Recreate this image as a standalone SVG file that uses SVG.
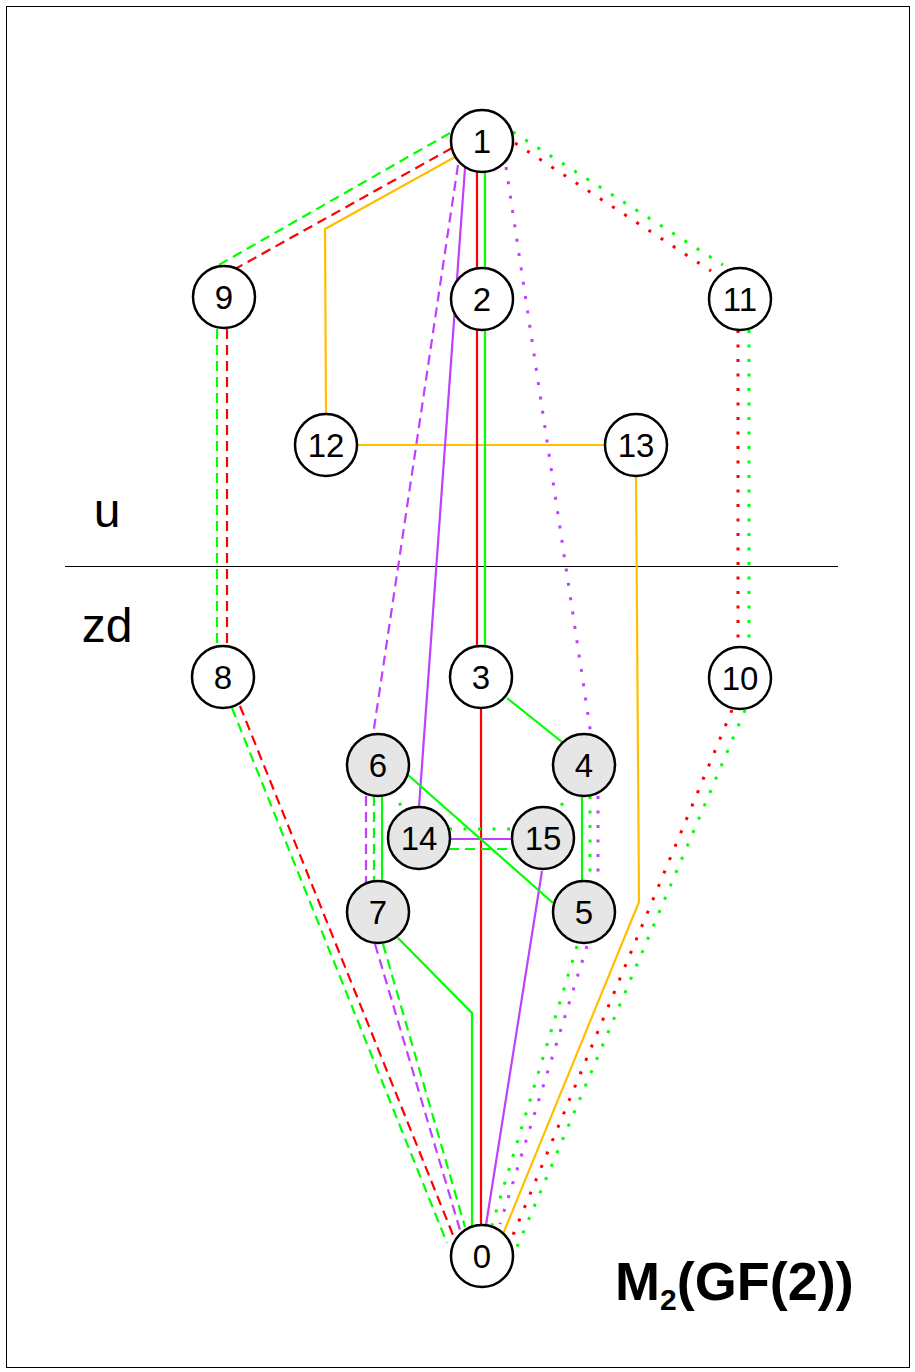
<svg xmlns="http://www.w3.org/2000/svg" width="915" height="1372" viewBox="0 0 915 1372">
<style>
.n circle{stroke:#000;stroke-width:2.5;fill:#fff}
.n.g circle{fill:#e6e6e6}
.n text{font-family:"Liberation Sans",Arial,sans-serif;font-size:33px;text-anchor:middle;fill:#000}
.e{fill:none;stroke-width:2.2}
.gr{stroke:#00ff00}.rd{stroke:#ff0000}.pu{stroke:#bf40ff}.or{stroke:#ffbf00}
.da{stroke-dasharray:10 6}
.dt{stroke-dasharray:3 11.5;stroke-width:3}
.lbl{font-family:"Liberation Sans",Arial,sans-serif;font-size:48px;fill:#000}
</style>
<rect x="6.5" y="6.5" width="903" height="1361" fill="#fff" stroke="#000" stroke-width="1"/>
<line x1="65" y1="566.5" x2="838" y2="566.5" stroke="#000" stroke-width="1"/>
<text class="lbl" x="107" y="527" text-anchor="middle">u</text>
<text class="lbl" x="107" y="642" text-anchor="middle">zd</text>
<g id="connectors">
<path class="e or" d="M455,157 L325,229 L326,414"/>
<path class="e or" d="M357,445 L605,445"/>
<path class="e or" d="M636,476 L639,902 L503,1234"/>
<path class="e rd" d="M477,172 L477,646"/>
<path class="e rd" d="M481,708 L481,1225"/>
<path class="e gr" d="M485,172 L485,646"/>
<path class="e pu" d="M465,168 L419,807"/>
<path class="e pu" d="M542,871 L486,1225"/>
<path class="e pu" d="M450,839 L513,839"/>
<path class="e gr" d="M382,796 L382,882"/>
<path class="e gr" d="M398,938 L472,1013 L472,1228"/>
<path class="e gr" d="M507,698 L562,742"/>
<path class="e gr" d="M582,797 L582,882"/>
<path class="e gr" d="M408,775 L553,903"/>
<path class="e gr da" d="M450,133 L217,266"/>
<path class="e rd da" d="M452,148 L235,269"/>
<path class="e gr da" d="M217,329 L217,646"/>
<path class="e rd da" d="M227,329 L227,646"/>
<path class="e gr da" d="M232,708 L447,1243"/>
<path class="e rd da" d="M240,706 L453,1235"/>
<path class="e pu da" d="M458,165 L373,735"/>
<path class="e pu da" d="M366,796 L366,882"/>
<path class="e pu da" d="M375,944 L460,1230"/>
<path class="e gr da" d="M374,796 L374,882"/>
<path class="e gr da" d="M383,944 L465,1227"/>
<path class="e gr da" d="M449,849 L513,849"/>
<path class="e pu dt" d="M506,167 L591,735"/>
<path class="e pu dt" d="M598,796 L598,882"/>
<path class="e pu dt" d="M587,946 L500,1224"/>
<path class="e rd dt" d="M515,143 L711,271"/>
<path class="e rd dt" d="M738,330 L738,647"/>
<path class="e rd dt" d="M732,710 L513,1235"/>
<path class="e gr dt" d="M513,132 L723,265"/>
<path class="e gr dt" d="M749,330 L749,647"/>
<path class="e gr dt" d="M745,710 L517,1247"/>
<path class="e gr dt" d="M590,796 L590,882"/>
<path class="e gr dt" d="M577,946 L492,1225"/>
<path class="e gr dt" d="M378,765 L419,838"/>
<path class="e gr dt" d="M584,765 L543,838"/>
<path class="e gr dt" d="M449,829 L513,829"/>
</g>
<g id="n1" class="n"><circle cx="482" cy="141" r="31"/><text x="482" y="153">1</text></g>
<g id="n2" class="n"><circle cx="482" cy="299" r="31"/><text x="482" y="311">2</text></g>
<g id="n9" class="n"><circle cx="224" cy="297" r="31"/><text x="224" y="309">9</text></g>
<g id="n11" class="n"><circle cx="740" cy="299" r="31"/><text x="740" y="311">11</text></g>
<g id="n12" class="n"><circle cx="326" cy="445" r="31"/><text x="326" y="457">12</text></g>
<g id="n13" class="n"><circle cx="636" cy="445" r="31"/><text x="636" y="457">13</text></g>
<g id="n8" class="n"><circle cx="223" cy="677" r="31"/><text x="223" y="689">8</text></g>
<g id="n3" class="n"><circle cx="481" cy="677" r="31"/><text x="481" y="689">3</text></g>
<g id="n10" class="n"><circle cx="740" cy="678" r="31"/><text x="740" y="690">10</text></g>
<g id="n6" class="n g"><circle cx="378" cy="765" r="31"/><text x="378" y="777">6</text></g>
<g id="n4" class="n g"><circle cx="584" cy="765" r="31"/><text x="584" y="777">4</text></g>
<g id="n14" class="n g"><circle cx="419" cy="838" r="31"/><text x="419" y="850">14</text></g>
<g id="n15" class="n g"><circle cx="543" cy="838" r="31"/><text x="543" y="850">15</text></g>
<g id="n7" class="n g"><circle cx="378" cy="912" r="31"/><text x="378" y="924">7</text></g>
<g id="n5" class="n g"><circle cx="584" cy="912" r="31"/><text x="584" y="924">5</text></g>
<g id="n0" class="n"><circle cx="482" cy="1256" r="31"/><text x="482" y="1268">0</text></g>
<text x="615" y="1300" font-family="'Liberation Sans',Arial,sans-serif" font-weight="bold" font-size="54" fill="#000">M<tspan font-size="30" dy="10">2</tspan><tspan dy="-10">(GF(2))</tspan></text>
</svg>
